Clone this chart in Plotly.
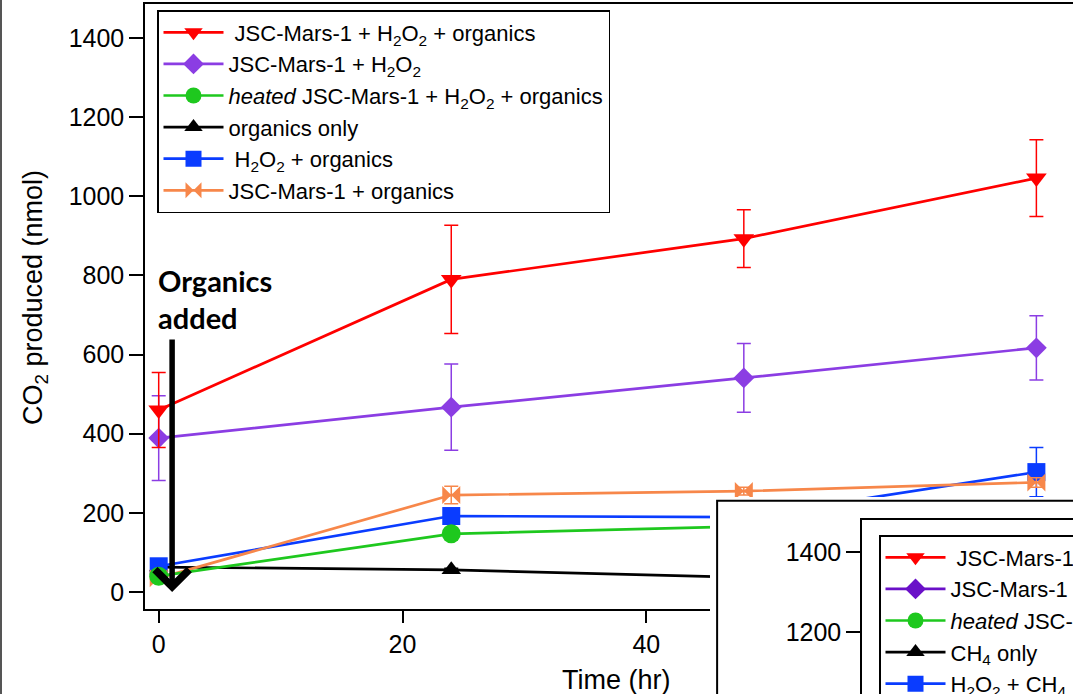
import plotly.graph_objects as go

# ---------------- data ----------------
time_hr = [0, 24, 48, 72]

red_vals = [460, 790, 893, 1046]
red_err = [95, 137, 73, 97]
purple_vals = [389, 467, 541, 617]
purple_err = [107, 109, 87, 81]
green_vals = [40, 147, 166, 185]
green_err = [6, 10, 10, 12]
black_vals = [63, 56, 37, 30]
black_err = [4, 4, 4, 4]
blue_vals = [65, 192, 189, 303]
blue_err = [6, 10, 10, 62]
orange_vals = [35, 245, 255, 277]
orange_err = [8, 22, 10, 12]

main_names = {
    "red": "\u00a0JSC-Mars-1 + H<sub>2</sub>O<sub>2</sub> + organics",
    "purple": "JSC-Mars-1 + H<sub>2</sub>O<sub>2</sub>",
    "green": "<i>heated</i> JSC-Mars-1 + H<sub>2</sub>O<sub>2</sub> + organics",
    "black": "organics only",
    "blue": "\u00a0H<sub>2</sub>O<sub>2</sub> + organics",
    "orange": "JSC-Mars-1 + organics",
}
inset_names = {
    "red": "\u00a0JSC-Mars-1 + H<sub>2</sub>O<sub>2</sub> + CH<sub>4</sub>",
    "purple": "JSC-Mars-1 + H<sub>2</sub>O<sub>2</sub>",
    "green": "<i>heated</i> JSC-Mars-1 + H<sub>2</sub>O<sub>2</sub> + CH<sub>4</sub>",
    "black": "CH<sub>4</sub> only",
    "blue": "H<sub>2</sub>O<sub>2</sub> + CH<sub>4</sub>",
    "orange": "JSC-Mars-1 + CH<sub>4</sub>",
}
y_ticks = [0, 200, 400, 600, 800, 1000, 1200, 1400]
x_ticks = [0, 20, 40, 60]
inset_y_ticks = [1200, 1400]

# ---------------- styles ----------------
W, H = 1073, 694
FONT = "Liberation Sans, Arial, sans-serif"
colors = {"red": "#FF0000", "purple": "#8B3DE3", "green": "#1EC81E",
          "black": "#000000", "blue": "#0A3CFF", "orange": "#F7874A"}
inset_colors = dict(colors, purple="#6A10C8")
symbols = {"red": "triangle-down", "purple": "diamond", "green": "circle",
           "black": "triangle-up", "blue": "square", "orange": "bowtie"}
sizes = {"red": 18, "purple": 16, "green": 19, "black": 17, "blue": 18, "orange": 18}
rank = {"red": 1, "purple": 2, "green": 3, "black": 4, "blue": 5, "orange": 6}

series = {
    "red": (red_vals, red_err), "purple": (purple_vals, purple_err),
    "green": (green_vals, green_err), "black": (black_vals, black_err),
    "blue": (blue_vals, blue_err), "orange": (orange_vals, orange_err),
}
draw_order = ["black", "blue", "orange", "green", "purple", "red"]

fig = go.Figure()

# main traces
for key in draw_order:
    vals, err = series[key]
    fig.add_trace(go.Scatter(
        x=time_hr, y=vals, mode="lines+markers", name=main_names[key],
        line=dict(color=colors[key], width=2.7),
        marker=dict(symbol=symbols[key], size=sizes[key], color=colors[key],
                    line=dict(width=0)),
        error_y=dict(type="data", array=err, visible=True, color=colors[key],
                     thickness=1.5, width=7),
        legendrank=rank[key], legend="legend", xaxis="x", yaxis="y",
    ))

# inset white panel (overlapping screenshot of another chart)
fig.add_trace(go.Scatter(
    x=[0, 0, 5, 5, 0], y=[-5, 1, 1, -5, -5], mode="lines", fill="toself",
    fillcolor="white", line=dict(color="black", width=2),
    showlegend=False, hoverinfo="skip", xaxis="x2", yaxis="y2",
))

# inset legend entries (legend-only)
for key in ["red", "purple", "green", "black", "blue", "orange"]:
    fig.add_trace(go.Scatter(
        x=[None], y=[None], mode="lines+markers", name=inset_names[key],
        line=dict(color=inset_colors[key], width=2.7),
        marker=dict(symbol=symbols[key], size=sizes[key], color=inset_colors[key]),
        legendrank=rank[key], legend="legend2", xaxis="x3", yaxis="y3",
    ))

px0, pxpu = 158.7, 12.19       # x pixel of t=0, px per hour
py0, pypu = 592.0, 0.3957      # y pixel of 0, px per nmol
left, top, bottom = 145, 3.5, 609

ax_common = dict(showgrid=False, zeroline=False, linecolor="black", linewidth=1.5,
                 tickfont=dict(family=FONT, size=25, color="black"),
                 tickcolor="black", tickwidth=1.5)
ax_notick = {k: v for k, v in ax_common.items() if k != "tickfont"}

fig.update_layout(
    width=W, height=H,
    margin=dict(l=0, r=0, t=0, b=0, autoexpand=False),
    paper_bgcolor="white", plot_bgcolor="white",
    font=dict(family=FONT, color="black"),
    xaxis=dict(domain=[left / W, 1],
               range=[(left - px0) / pxpu, (W - px0) / pxpu],
               tickvals=x_ticks, ticks="outside", ticklen=12, showline=True,
               mirror=True, anchor="y", **ax_common),
    yaxis=dict(domain=[(H - bottom) / H, (H - top) / H],
               range=[(py0 - bottom) / pypu, (py0 - top) / pypu],
               tickvals=y_ticks, ticks="outside", ticklen=14, showline=True,
               anchor="x", **ax_common),
    xaxis2=dict(domain=[710 / W, 1], range=[-0.02, 1], visible=False, anchor="y2"),
    yaxis2=dict(domain=[0, 197 / H], range=[0, 1.02], visible=False, anchor="x2"),
    xaxis3=dict(domain=[862 / W, 1], range=[0, 1], side="top", showline=True,
                showticklabels=False, ticks="", anchor="y3", **ax_notick),
    yaxis3=dict(domain=[0, (H - 520) / H],
                range=[1400 - (694 - 552) / 0.4, 1400 + (552 - 520) / 0.4],
                tickvals=inset_y_ticks, ticks="outside", ticklen=14, showline=True,
                anchor="x3", **ax_common),
    legend=dict(x=157 / W, y=(H - 10) / H, xanchor="left", yanchor="top",
                bgcolor="white", bordercolor="black", borderwidth=1.5,
                font=dict(family=FONT, size=22, color="black"),
                itemwidth=60, tracegroupgap=0),
    legend2=dict(x=879 / W, y=(H - 535) / H, xanchor="left", yanchor="top",
                 bgcolor="white", bordercolor="black", borderwidth=1.5,
                 font=dict(family=FONT, size=22, color="black"),
                 itemwidth=60, tracegroupgap=0),
    showlegend=True,
)

# axis titles as annotations for precise placement
fig.add_annotation(text="CO<sub>2</sub> produced (nmol)", xref="paper", yref="paper",
                   x=35 / W, y=(H - 298) / H, xanchor="center", yanchor="middle",
                   textangle=-90, showarrow=False,
                   font=dict(family=FONT, size=27, color="black"))
fig.add_annotation(text="Time (hr)", xref="paper", yref="paper",
                   x=616 / W, y=(H - 680) / H, xanchor="center", yanchor="middle",
                   showarrow=False, font=dict(family=FONT, size=27, color="black"))

# "Organics added" label and arrow
BOLD = "Lato, Open Sans, sans-serif"
fig.add_annotation(text="<b>Organics</b>", xref="paper", yref="paper",
                   x=156 / W, y=(H - 280) / H, xanchor="left", yanchor="middle",
                   showarrow=False, font=dict(family=BOLD, size=29, color="black"))
fig.add_annotation(text="<b>added</b>", xref="paper", yref="paper",
                   x=156 / W, y=(H - 317) / H, xanchor="left", yanchor="middle",
                   showarrow=False, font=dict(family=BOLD, size=29, color="black"))
fig.add_annotation(text="", x=1.1, y=0, xref="x", yref="y",
                   ax=1.1, ay=642, axref="x", ayref="y", showarrow=True,
                   arrowhead=4, arrowsize=1.2, arrowwidth=5.5, arrowcolor="black")

# thin grey border at the left edge of the picture
fig.add_shape(type="line", xref="paper", yref="paper", x0=1 / W, x1=1 / W, y0=0, y1=1,
              line=dict(color="#555555", width=2))

fig.write_html("out.html", config={"displayModeBar": False},
               post_script="document.body.style.margin='0';")
